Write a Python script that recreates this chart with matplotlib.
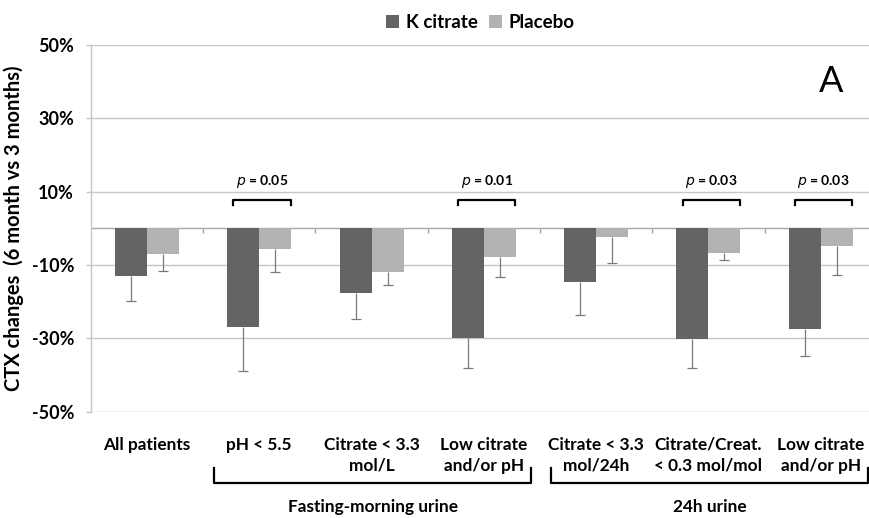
import numpy as np
import matplotlib
matplotlib.use("Agg")
import matplotlib.pyplot as plt
import matplotlib.transforms as mtransforms

plt.rcParams['font.family'] = ['Lato', 'DejaVu Sans']

# Data (percent change, 6 month vs 3 months)
categories = ["All patients", "pH < 5.5", "Citrate < 3.3\nmol/L", "Low citrate\nand/or pH",
              "Citrate < 3.3\nmol/24h", "Citrate/Creat.\n< 0.3 mol/mol", "Low citrate\nand/or pH"]
k_citrate = [-13.0, -27.0, -17.7, -29.8, -14.6, -30.2, -27.5]
k_citrate_err = [6.9, 11.8, 7.1, 8.4, 9.1, 8.0, 7.2]
placebo = [-6.9, -5.5, -12.0, -7.9, -2.3, -6.8, -4.8]
placebo_err = [4.8, 6.4, 3.5, 5.5, 7.2, 1.9, 7.8]

# p-value annotations: category index -> label
p_values = {1: "0.05", 3: "0.01", 5: "0.03", 6: "0.03"}

# category groups shown under the axis
groups = [("Fasting-morning urine", 1, 3), ("24h urine", 4, 6)]

yticks = [-50, -30, -10, 10, 30, 50]
ytick_labels = ["-50%", "-30%", "-10%", "10%", "30%", "50%"]

dark = "#646464"
light = "#b2b2b2"
grid = "#c6c6c6"

fig = plt.figure(figsize=(8.7, 5.18), dpi=100)
ax = fig.add_axes([0.1043, 0.2052, 0.9037, 0.7079])

x = np.arange(len(categories))
w = 0.285

ax.bar(x - w / 2, k_citrate, w, color=dark, label="K citrate", zorder=3)
ax.bar(x + w / 2, placebo, w, color=light, label="Placebo", zorder=3)

# downward-only error bars, no cap at the bar end
for xs, vals, errs in [(x - w / 2, k_citrate, k_citrate_err), (x + w / 2, placebo, placebo_err)]:
    _, caps, _ = ax.errorbar(xs, vals, yerr=[errs, np.zeros(len(x))], fmt="none",
                             ecolor="#7a7a7a", elinewidth=0.9, capsize=3.6, capthick=0.9,
                             zorder=4)
    for c in caps:
        if np.allclose(c.get_ydata(), vals):
            c.set_visible(False)

ax.set_xlim(-0.5, len(categories) - 0.5)
ax.set_ylim(-50, 50)

# grid and axes
ax.set_yticks(yticks)
ax.set_yticklabels(ytick_labels, fontsize=13, fontweight="bold")
ax.yaxis.grid(True, color=grid, lw=1.0, zorder=0)
ax.tick_params(axis="y", length=3.6, color=grid, width=1.0, pad=8.4)
for s in ["top", "right", "bottom"]:
    ax.spines[s].set_visible(False)
ax.spines["left"].set_color(grid)
ax.spines["left"].set_linewidth(1.0)
ax.axhline(0, color="#a8a8a8", lw=1.0, zorder=2)
ax.vlines(x[1:] - 0.5, -1.4, 0, color="#a8a8a8", lw=1.0, zorder=2)

ax.set_xticks(x)
ax.set_xticklabels(categories, fontsize=12.4, fontweight="bold", linespacing=1.4, va="top")
ax.tick_params(axis="x", length=0, pad=18)

# p-value brackets
for i, p in p_values.items():
    x0, x1 = x[i] - 0.23, x[i] + 0.28
    ax.plot([x0, x0, x1, x1], [6.3, 7.8, 7.8, 6.3], color="black", lw=1.6,
            solid_joinstyle="round", zorder=5)
    ax.text((x0 + x1) / 2, 12.7, r"$\bf{\it{p}}$" + " = " + p, ha="center", va="center",
            fontsize=10, fontweight="bold")

# group brackets below the category labels
trans = mtransforms.blended_transform_factory(ax.transData, ax.transAxes)
for name, first, last in groups:
    x0, x1 = x[first] - 0.4, x[last] + 0.42
    ax.plot([x0, x0, x1, x1], [-0.153, -0.194, -0.194, -0.153], color="black", lw=1.6,
            transform=trans, clip_on=False, solid_joinstyle="round")
    ax.text((x0 + x1) / 2, -0.259, name, transform=trans, ha="center", va="center",
            fontsize=12.4, fontweight="bold")

ax.text(x[6] + 0.09, 40, "A", ha="center", va="center", fontsize=26)

fig.text(0.016, 0.56, "CTX changes  (6 month vs 3 months)", rotation=90, ha="center",
         va="center", fontsize=14.5, fontweight="bold")

fig.legend(loc="center", bbox_to_anchor=(0.552, 0.957), ncol=2, frameon=False,
           handlelength=0.7, handleheight=0.7, columnspacing=0.6, handletextpad=0.35,
           prop={"size": 13.5, "weight": "bold"})

fig.savefig("out.png", dpi=100)
